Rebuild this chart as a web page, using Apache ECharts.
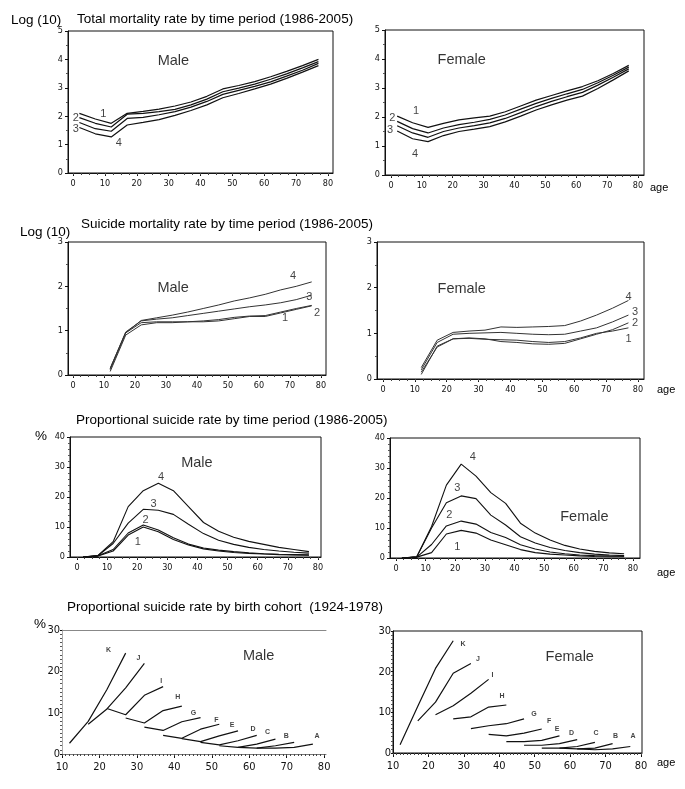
<!DOCTYPE html>
<html>
<head>
<meta charset="utf-8">
<script src="https://cdn.jsdelivr.net/npm/echarts@6/dist/echarts.min.js"></script>
<style>
html,body{margin:0;padding:0;background:#fff;}
#main{width:685px;height:789px;}
</style>
</head>
<body>
<div id="main"></div>
<script>
// age-group midpoints
const periodAges = [2,7,12,17,22,27,32,37,42,47,52,57,62,67,72,77];
const suicideAges = [12,17,22,27,32,37,42,47,52,57,62,67,72,77];
const periodNames = ['1','2','3','4'];

// total mortality rate, log10, periods 1..4
const totalMale = [
  [2.10,1.90,1.75,2.10,2.17,2.25,2.36,2.50,2.70,2.96,3.08,3.22,3.39,3.58,3.78,4.00],
  [1.95,1.75,1.62,2.07,2.10,2.16,2.24,2.40,2.60,2.86,2.99,3.13,3.30,3.49,3.70,3.92],
  [1.78,1.56,1.47,1.92,1.96,2.05,2.16,2.32,2.52,2.77,2.91,3.05,3.21,3.41,3.62,3.86],
  [1.60,1.38,1.27,1.69,1.78,1.88,2.03,2.20,2.40,2.65,2.80,2.96,3.13,3.33,3.55,3.78]
];
const totalFemale = [
  [2.03,1.80,1.64,1.78,1.90,1.97,2.03,2.18,2.38,2.58,2.74,2.90,3.05,3.25,3.50,3.78],
  [1.85,1.60,1.45,1.62,1.74,1.82,1.92,2.07,2.27,2.47,2.64,2.80,2.95,3.18,3.44,3.72],
  [1.70,1.45,1.30,1.50,1.62,1.70,1.80,1.95,2.15,2.36,2.54,2.70,2.85,3.10,3.37,3.66],
  [1.52,1.25,1.15,1.36,1.50,1.58,1.67,1.83,2.03,2.24,2.42,2.58,2.72,2.98,3.28,3.59]
];

// suicide mortality rate, log10
const suicideMale = [
  [0.08,0.90,1.13,1.18,1.18,1.20,1.20,1.22,1.27,1.32,1.32,1.40,1.48,1.56],
  [0.12,0.95,1.18,1.20,1.20,1.20,1.22,1.25,1.30,1.33,1.34,1.42,1.50,1.57],
  [0.15,0.97,1.22,1.26,1.29,1.34,1.39,1.44,1.49,1.54,1.58,1.63,1.70,1.80],
  [0.15,0.95,1.23,1.29,1.35,1.42,1.50,1.58,1.67,1.74,1.82,1.92,2.00,2.10]
];
const suicideFemale = [
  [0.10,0.72,0.88,0.89,0.87,0.86,0.85,0.82,0.80,0.82,0.90,1.00,1.05,1.12],
  [0.15,0.70,0.88,0.90,0.88,0.82,0.80,0.77,0.76,0.78,0.88,0.98,1.08,1.23],
  [0.20,0.80,0.98,1.00,1.01,1.02,1.00,0.98,0.97,0.98,1.05,1.12,1.25,1.40],
  [0.25,0.85,1.02,1.05,1.07,1.14,1.13,1.14,1.15,1.17,1.27,1.40,1.55,1.72]
];

// proportional suicide rate (%) by period
const propMale = [
  [0,0.3,2.0,7.3,10.0,8.4,5.8,4.0,2.7,2.0,1.5,1.2,1.0,0.8,0.7,0.6],
  [0,0.4,2.5,8.0,10.7,9.0,6.4,4.3,3.0,2.3,1.8,1.4,1.1,0.9,0.8,0.7],
  [0,0.5,4.5,11.3,15.9,15.6,14.2,10.9,7.8,5.6,4.2,3.2,2.5,2.0,1.6,1.3],
  [0,0.5,5.1,16.8,22.1,24.6,22.1,16.8,11.5,8.6,6.6,5.2,4.2,3.2,2.5,1.8]
];
const propFemale = [
  [0,0.3,1.8,8.0,9.2,8.3,6.0,4.4,2.8,1.8,1.3,1.0,0.7,0.5,0.4,0.4],
  [0,0.3,4.5,10.7,12.3,11.3,8.5,6.8,4.4,3.0,2.0,1.4,1.0,0.8,0.7,0.6],
  [0,0.4,10.0,18.4,20.7,19.8,14.3,11.0,7.1,5.0,3.5,2.5,1.8,1.3,1.0,0.8],
  [0,0.4,10.5,24.3,31.3,27.3,21.8,18.2,11.6,8.3,6.0,4.2,3.0,2.2,1.7,1.4]
];

// birth cohorts A..K: first observed age and four values (%)
const cohortNames = ['A','B','C','D','E','F','G','H','I','J','K'];
const cohortStartAge = [62,57,52,47,42,37,32,27,22,17,12];
const cohortMale = [
  [1.4,1.4,1.6,2.4],[1.6,1.4,2.0,2.8],[2.0,1.6,2.4,3.6],[2.8,2.2,3.2,4.5],
  [3.7,3.0,4.4,5.6],[4.5,3.8,6.0,7.2],[6.5,5.7,7.8,8.8],[8.7,7.5,10.5,11.6],
  [11.0,9.5,14.2,16.3],[7.2,10.9,16.0,21.9],[2.6,7.9,15.6,24.4]
];
const cohortFemale = [
  [1.0,0.8,1.0,1.6],[1.2,1.0,1.2,2.3],[1.2,1.2,1.6,2.6],[1.9,1.9,2.3,3.3],
  [2.8,2.8,3.1,4.2],[4.6,4.2,4.9,5.9],[6.0,6.7,7.2,8.4],[8.4,8.9,11.3,11.8],
  [9.4,11.6,14.7,18.1],[7.9,12.5,19.6,22.0],[2.0,11.5,20.8,27.6]
];

// where the curve labels sit, in data units
const totalMaleLabelAt = [[9.5,2.08],[0.9,1.93],[0.9,1.54],[14.4,1.05]];
const totalFemaleLabelAt = [[8.1,2.21],[0.4,1.95],[-0.3,1.57],[7.8,0.72]];
const suicideMaleLabelAt = [[68.4,1.28],[78.7,1.41],[76.2,1.77],[71,2.23]];
const suicideFemaleLabelAt = [[77,0.87],[79.1,1.22],[79.1,1.47],[77,1.8]];
const propMaleLabelAt = [[20.2,5.1],[22.8,12.3],[25.4,17.7],[27.9,26.6]];
const propFemaleLabelAt = [[20.7,3.8],[18,14.3],[20.7,23.2],[25.9,33.8]];
const cohortMaleLabelAt = [[78.1,4.4],[69.9,4.4],[64.9,5.2],[61,6.0],[55.4,7.1],[51.2,8.1],[45.1,9.9],[40.9,13.7],[36.5,17.6],[30.4,23.2],[22.4,25.1]];
const cohortFemaleLabelAt = [[77.8,4.2],[72.8,4.1],[67.3,4.9],[60.4,4.9],[56.3,5.9],[54.1,7.8],[49.8,9.6],[40.8,14.0],[38.1,19.2],[34,23.1],[29.8,26.8]];
const sexNames = ['Male','Female','Male','Female','Male','Female','Male','Female'];
const sexLabelAt = [[31.5,3.95],[22.9,3.97],[32.3,1.96],[24.7,1.98],[39.8,31.2],[63.6,13.8],[62.5,23.7],[59.9,23.7]];

const ink = '#111';
const tickFont = "'Liberation Sans Narrow','DejaVu Sans Condensed',sans-serif";
const textFont = "'Liberation Sans',Arial,sans-serif";

// panel boxes: left, top, width, height and axis extents
const panels = [
  {box:[68,31,265,142],  x:[-1.57,81.57], xt:[0,80], xMinor:2.5, y:[0,5,1],   yMinor:2,  frame:true},
  {box:[385,30,259,145], x:[-1.94,81.94], xt:[0,80], xMinor:2.5, y:[0,5,1],   yMinor:2,  frame:true},
  {box:[68,242,258,133], x:[-1.61,81.61], xt:[0,80], xMinor:2.5, y:[0,3,1],   yMinor:2,  frame:true},
  {box:[377,242,267,137],x:[-1.88,81.88], xt:[0,80], xMinor:2.5, y:[0,3,1],   yMinor:2,  frame:true},
  {box:[70,437,251,120], x:[-2.32,81.0],  xt:[0,80], xMinor:2.5, y:[0,40,10], yMinor:5,  frame:true},
  {box:[390,438,250,120],x:[-2.03,82.36], xt:[0,80], xMinor:2.5, y:[0,40,10], yMinor:5,  frame:true},
  {box:[62,630,264,124], x:[10,80.5],     xt:[10,80], xMinor:1,  y:[0,30,10], yMinor:10, frame:false, big:true},
  {box:[393,631,249,122],x:[10,80.3],     xt:[10,80], xMinor:1,  y:[0,30,10], yMinor:10, frame:true,  big:true}
];

function steps(a, b, s) {
  const out = [];
  for (let v = a; v <= b + 1e-9; v += s) out.push(+v.toFixed(3));
  return out;
}

const grid = [], xAxis = [], yAxis = [], series = [];
const mainX = [];

panels.forEach((p, i) => {
  grid.push({
    left:p.box[0], top:p.box[1], width:p.box[2], height:p.box[3],
    show:p.frame, borderColor:ink, borderWidth:1, backgroundColor:'rgba(0,0,0,0)'
  });
  const majors = steps(p.xt[0], p.xt[1], 10);
  const minors = steps(p.xt[0], p.xt[1], p.xMinor);
  const lineCol = p.frame ? ink : '#777';
  mainX.push(xAxis.length);
  xAxis.push({
    gridIndex:i, type:'value', min:p.x[0], max:p.x[1], position:'bottom',
    axisLine:{show:true, onZero:false, lineStyle:{color:lineCol, width:1}},
    axisTick:{show:true, customValues:majors, length:p.big ? 4 : 3, lineStyle:{color:ink}},
    axisLabel:{customValues:majors, fontSize:p.big ? 11 : 9, fontFamily:tickFont, color:ink, margin:p.big ? 8 : 6},
    splitLine:{show:false}
  });
  xAxis.push({
    gridIndex:i, type:'value', min:p.x[0], max:p.x[1], position:'bottom',
    axisLine:{show:false, onZero:false},
    axisTick:{show:true, customValues:minors, length:2, lineStyle:{color:'#444'}},
    axisLabel:{show:false}, splitLine:{show:false}
  });
  if (!p.frame) {
    xAxis.push({
      gridIndex:i, type:'value', min:p.x[0], max:p.x[1], position:'top',
      axisLine:{show:true, onZero:false, lineStyle:{color:'#888'}},
      axisTick:{show:false}, axisLabel:{show:false}, splitLine:{show:false}
    });
  }
  yAxis.push({
    gridIndex:i, type:'value', min:p.y[0], max:p.y[1], interval:p.y[2],
    axisLine:{show:true, onZero:false, lineStyle:{color:p.frame ? ink : '#aaa', width:1}},
    axisTick:{show:true, length:p.big ? 2 : 3, lineStyle:{color:ink}},
    minorTick:{show:true, splitNumber:p.yMinor, length:2, lineStyle:{color:'#555'}},
    axisLabel:{fontSize:p.big ? 11 : 9, fontFamily:tickFont, color:ink, margin:p.big ? 2 : 5},
    splitLine:{show:false}, minorSplitLine:{show:false}
  });
});

function addPeriodLines(i, ages, lines, width, color) {
  lines.forEach(vals => {
    series.push({
      type:'line', xAxisIndex:mainX[i], yAxisIndex:i, symbol:'none', silent:true,
      lineStyle:{color:color, width:width},
      data:ages.map((a, k) => [a, vals[k]])
    });
  });
}

function addCohortLines(i, lines) {
  lines.forEach((vals, c) => {
    series.push({
      type:'line', xAxisIndex:mainX[i], yAxisIndex:i, symbol:'none', silent:true,
      lineStyle:{color:ink, width:1.2},
      data:vals.map((v, k) => [cohortStartAge[c] + 5 * k, v])
    });
  });
}

function addLabels(i, positions, names, style) {
  series.push({
    type:'scatter', xAxisIndex:mainX[i], yAxisIndex:i, symbolSize:1, silent:true, clip:false,
    itemStyle:{color:'rgba(0,0,0,0)'},
    label:Object.assign({show:true, position:'inside', formatter:'{b}', color:ink, fontFamily:textFont}, style),
    data:positions.map((pos, k) => ({name:names[k], value:pos}))
  });
}

addPeriodLines(0, periodAges, totalMale, 1.2, ink);
addPeriodLines(1, periodAges, totalFemale, 1.2, ink);
addPeriodLines(2, suicideAges, suicideMale, 1, '#333');
addPeriodLines(3, suicideAges, suicideFemale, 1, '#333');
addPeriodLines(4, periodAges, propMale, 1.1, ink);
addPeriodLines(5, periodAges, propFemale, 1.1, ink);
addCohortLines(6, cohortMale);
addCohortLines(7, cohortFemale);

addLabels(0, totalMaleLabelAt, periodNames, {fontSize:11});
addLabels(1, totalFemaleLabelAt, periodNames, {fontSize:11});
addLabels(2, suicideMaleLabelAt, periodNames, {fontSize:11});
addLabels(3, suicideFemaleLabelAt, periodNames, {fontSize:11});
addLabels(4, propMaleLabelAt, periodNames, {fontSize:11});
addLabels(5, propFemaleLabelAt, periodNames, {fontSize:11});
addLabels(6, cohortMaleLabelAt, cohortNames, {fontSize:7, fontWeight:'bold'});
addLabels(7, cohortFemaleLabelAt, cohortNames, {fontSize:7, fontWeight:'bold'});
sexLabelAt.forEach((pos, i) => addLabels(i, [pos], [sexNames[i]], {fontSize:14.5, color:'#000'}));

const headStyle = {fontSize:13.5, fontWeight:'normal', fontFamily:textFont, color:'#000'};
const ageStyle = {fontSize:11, fontWeight:'normal', fontFamily:textFont, color:'#000'};
const title = [
  {text:'Log (10)', left:11, top:13},
  {text:'Total mortality rate by time period (1986-2005)', left:77, top:12},
  {text:'Log (10)', left:20, top:225},
  {text:'Suicide mortality rate by time period (1986-2005)', left:81, top:217},
  {text:'%', left:35, top:429},
  {text:'Proportional suicide rate by time period (1986-2005)', left:76, top:413},
  {text:'%', left:34, top:617},
  {text:'Proportional suicide rate by birth cohort  (1924-1978)', left:67, top:600}
].map(t => Object.assign({padding:0, textStyle:headStyle}, t));
[[650,182],[657,384],[657,567],[657,757]].forEach(p => {
  title.push({text:'age', left:p[0], top:p[1], padding:0, textStyle:ageStyle});
});

const chart = echarts.init(document.getElementById('main'));
chart.setOption({
  animation:false,
  backgroundColor:'#fff',
  title:title,
  grid:grid,
  xAxis:xAxis,
  yAxis:yAxis,
  series:series
});
</script>
</body>
</html>
